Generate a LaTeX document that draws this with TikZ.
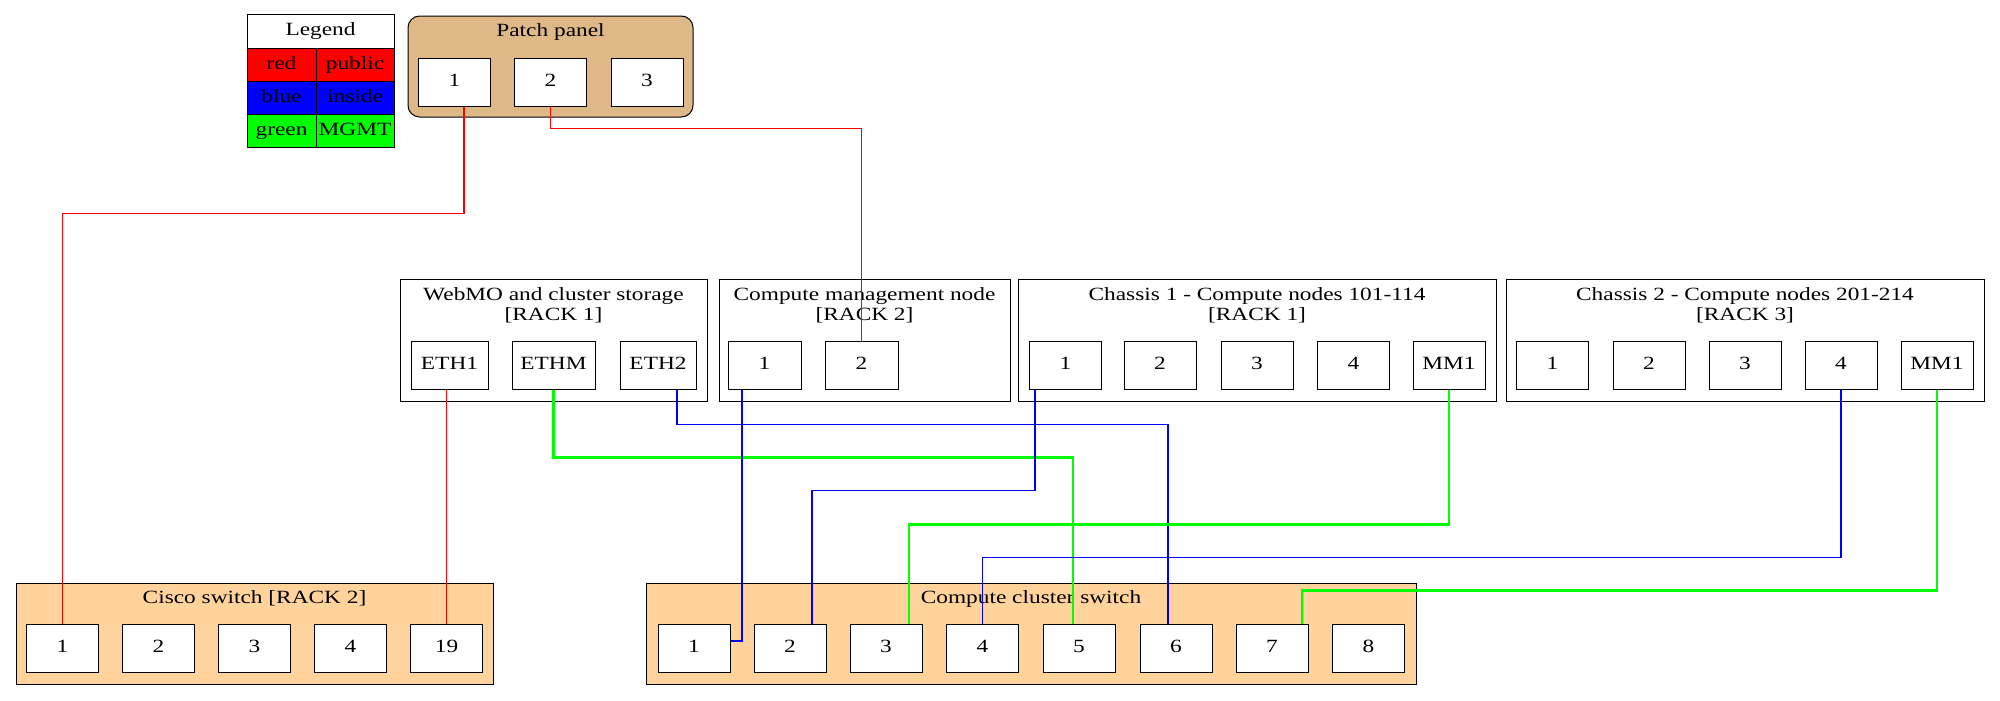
\documentclass[tikz,border=0pt]{standalone}
\usepackage{fontspec}
\setmainfont{Liberation Serif}[FakeStretch=1.25]
\definecolor{burlywood}{HTML}{DEB887}
\definecolor{switchtan}{HTML}{FFD39B}
\tikzset{
  port/.style={draw, fill=white, line width=0.6pt, minimum width=43.2pt, minimum height=28.8pt, inner sep=0pt, text height=7.5pt, text depth=2.2pt},
  rack/.style={draw, line width=0.6pt, inner sep=0pt, minimum height=73.2pt},
  switchbox/.style={draw, fill=switchtan, line width=0.6pt, inner sep=0pt, minimum height=60.6pt},
  cell/.style={draw, line width=0.6pt, inner sep=0pt, minimum height=20pt, text height=7.5pt, text depth=2.2pt},
  public/.style={draw=red, line width=0.8pt},
  inside/.style={draw=blue, line width=0.8pt},
  mgmt/.style={draw=green, line width=1.5pt},
}
\begin{document}
\begin{tikzpicture}[x=0.6pt, y=-0.6pt, every node/.style={font=\fontsize{11.2}{12}\selectfont}]
\useasboundingbox (0,0) rectangle (2000,700);
% legend
\node[cell, fill=white, minimum width=88.2pt] (lghead) at (320.5,31.5) {Legend};
\node[cell, fill=red, minimum width=41.4pt] (lgred) at (281.5,64.7) {red};
\node[cell, fill=red, minimum width=46.8pt] (lgpub) at (355,64.7) {public};
\node[cell, fill=blue, minimum width=41.4pt] (lgblue) at (281.5,98) {blue};
\node[cell, fill=blue, minimum width=46.8pt] (lgins) at (355,98) {inside};
\node[cell, fill=green, minimum width=41.4pt] (lggreen) at (281.5,131.3) {green};
\node[cell, fill=green, minimum width=46.8pt] (lgmgmt) at (355,131.3) {MGMT};
% patch panel
\node[draw, fill=burlywood, rounded corners=7pt, line width=0.6pt, minimum width=171pt, minimum height=60.6pt] (patch) at (550.5,66.5) {};
\node[anchor=base] (patchtitle) at (550.5,36.5) {Patch panel};
\node[port] (pp1) at (454.5,82) {1};
\node[port] (pp2) at (550.5,82) {2};
\node[port] (pp3) at (647,82) {3};
% servers
\node[rack, minimum width=184.2pt] (webmo) at (553.5,340) {};
\node[align=center] (webmotitle) at (553.5,305.5) {WebMO and cluster storage\\{[RACK 1]}};
\node[port, minimum width=46.2pt] (eth1) at (449.5,365) {ETH1};
\node[port, minimum width=49.8pt] (ethm) at (553.5,365) {ETHM};
\node[port, minimum width=45.6pt] (eth2) at (658,365) {ETH2};
\node[rack, minimum width=174.6pt] (mgmtnode) at (864.5,340) {};
\node[align=center] (mgmttitle) at (864.5,305.5) {Compute management node\\{[RACK 2]}};
\node[port, minimum width=43.8pt] (mg1) at (764.5,365) {1};
\node[port, minimum width=43.8pt] (mg2) at (861.5,365) {2};
\node[rack, minimum width=286.8pt] (chassisa) at (1257,340) {};
\node[align=center] (chassisatitle) at (1257,305.5) {Chassis 1 - Compute nodes 101-114\\{[RACK 1]}};
\node[port] (ca1) at (1065.5,365) {1};
\node[port] (ca2) at (1160,365) {2};
\node[port] (ca3) at (1257,365) {3};
\node[port] (ca4) at (1353.5,365) {4};
\node[port] (cam) at (1449,365) {MM1};
\node[rack, minimum width=286.8pt] (chassisb) at (1745,340) {};
\node[align=center] (chassisbtitle) at (1745,305.5) {Chassis 2 - Compute nodes 201-214\\{[RACK 3]}};
\node[port] (cb1) at (1552.5,365) {1};
\node[port] (cb2) at (1649,365) {2};
\node[port] (cb3) at (1745,365) {3};
\node[port] (cb4) at (1841,365) {4};
\node[port] (cbm) at (1937,365) {MM1};
% switches
\node[switchbox, minimum width=286.2pt] (cisco) at (254.5,633.5) {};
\node[anchor=base] (ciscotitle) at (254.5,603) {Cisco switch [RACK 2]};
\node[port] (cs1) at (62.5,648) {1};
\node[port] (cs2) at (158.5,648) {2};
\node[port] (cs3) at (254.5,648) {3};
\node[port] (cs4) at (350.5,648) {4};
\node[port] (cs19) at (446.5,648) {19};
\node[switchbox, minimum width=462pt] (cluster) at (1031,633.5) {};
\node[anchor=base] (clustertitle) at (1031,603) {Compute cluster switch};
\node[port] (sw1) at (694,648) {1};
\node[port] (sw2) at (790,648) {2};
\node[port] (sw3) at (886,648) {3};
\node[port] (sw4) at (982.5,648) {4};
\node[port] (sw5) at (1079,648) {5};
\node[port] (sw6) at (1176,648) {6};
\node[port] (sw7) at (1272,648) {7};
\node[port] (sw8) at (1368.5,648) {8};
% cables
\draw[public] ([xshift=5.7pt]pp1.south) -- ++(0,107) -| (cs1.north);
\draw[public] (pp2.south) -- ++(0,22) -| (mg2.north);
\draw[public] (cs19.north |- eth1.south) -- (cs19.north);
\draw[mgmt] (ethm.south) -- ++(0,68) -| ([xshift=-3.6pt]sw5.north);
\draw[inside] ([xshift=11.4pt]eth2.south) -- ++(0,35) -| ([xshift=-4.8pt]sw6.north);
\draw[inside] ([xshift=-13.5pt]mg1.south) |- ([yshift=4.2pt]sw1.east);
\draw[inside] ([xshift=-18.3pt]ca1.south) -- ++(0,101) -| ([xshift=13.2pt]sw2.north);
\draw[mgmt] (cam.south) -- ++(0,135) -| ([xshift=13.8pt]sw3.north);
\draw[inside] (cb4.south) -- ++(0,168) -| (sw4.north);
\draw[mgmt] (cbm.south) -- ++(0,201) -| ([xshift=18pt]sw7.north);
\end{tikzpicture}
\end{document}
